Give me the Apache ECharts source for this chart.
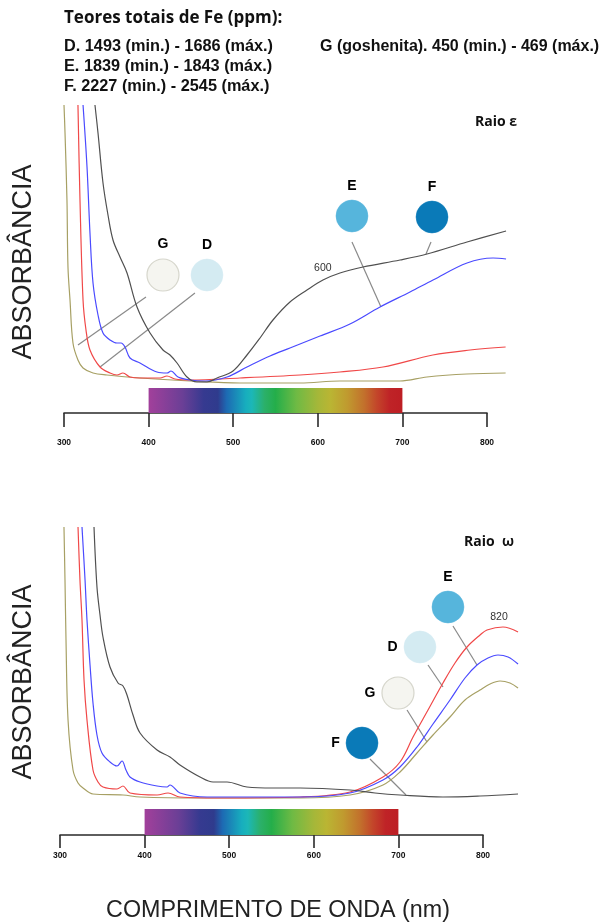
<!DOCTYPE html>
<html><head><meta charset="utf-8">
<script src="https://cdn.jsdelivr.net/npm/echarts@6/dist/echarts.min.js"></script>
<style>html,body{margin:0;padding:0;background:#fff}#c{width:603px;height:922px}</style>
</head><body><div id="c"></div>
<script>
// ---------- DATA ----------
// Raio epsilon (upper panel): wavelength (nm) and absorbance (arbitrary units)
const epsD_nm  = [316.5,318.9,322.5,326,330.7,342.6,354.4,362.6,369.7,378,389.8,413.5,421.7,431.2,448.9,508,579,626,677,736,780,822];
const epsD_abs = [295,200,100,70,50,33,27,25,27,23,22,22,24,21,20,22,25,28,33,45,50,53];
const epsE_nm  = [322.5,327.2,330.7,334.3,340.2,346.1,354.4,362.6,367.4,372.1,378,389.8,409.9,421.7,426.5,434.8,448.9,466.7,492.7,516.3,543.5,567.1,602.6,638,673.5,709,736.2,776.4,807.1,822.5];
const epsE_abs = [295,233,167,117,85,67,60,57,57,53,42,37,28,27,29,23,20,19,23,33,44,52,64,76,93,108,120,137,142,141];
const epsF_nm  = [336.6,340.2,346.1,352,357.9,366.2,374.5,386.3,401.7,417,425.3,433.6,445.4,457.2,469,480.9,499.8,516.3,531.7,547,567.1,587.2,606.1,626.2,653.4,697.2,729.1,776.4,822.5];
const epsF_abs = [295,267,217,185,160,143,127,93,67,50,45,37,23,18,18,22,29,45,62,80,98,110,120,127,133,140,146,158,169];
const epsG_nm  = [300,301.2,303.5,304.7,307.1,310.6,316.5,322.5,334.3,350.8,389.8,448.9,508,579,626,697,729,776,822];
const epsG_abs = [295,267,200,133,100,57,40,32,27,25,22,19,17,17,19,19,23,26,27];

// Raio omega (lower panel)
const omeD_nm  = [321.3,323.6,326,328.4,331.9,339,344.9,350.8,367.4,374.5,382.7,414.7,427.7,441.8,489.1,583.7,642.8,681.8,701.9,717.3,735,752.7,766.9,781.1,796.5,804.7,823.6,841.4];
const omeD_abs = [293,240,200,140,100,50,38,33,31,34,27,25,27,23,22,23,28,43,58,83,110,137,157,173,185,190,193,188];
const omeE_nm  = [326,329.6,331.9,335.5,339,343.7,349.6,359.1,367.4,373.3,378,382.7,394.6,414.7,426.5,430,441.8,473.8,583.7,642.8,681.8,701.9,722,740.9,761,778.7,792.9,805.9,817.7,829.6,841.4];
const omeE_abs = [293,240,200,155,117,85,67,58,54,59,50,43,38,34,33,35,27,23,23,27,40,53,73,96,120,142,155,162,165,163,156];
const omeF_nm  = [340.2,343.7,347.3,350.8,359.1,368.6,374.5,379.2,386.3,394.6,414.7,430,441.8,465.5,480.9,497.4,521,551.8,583.7,642.8,672.3,701.9,752.7,796.5,841.4];
const omeF_abs = [293,233,205,183,153,137,134,125,105,87,70,63,55,43,38,38,33,32,32,30,27,25,23,24,26];
const omeG_nm  = [304.7,305.9,307.1,309.5,315.4,321.3,327.2,339,374.5,394.6,465.5,551.8,583.7,642.8,681.8,701.9,722,740.9,761,778.7,796.5,808.3,820.1,831.9,841.4];
const omeG_abs = [293,240,180,100,50,37,32,26,25,23,22,22,22,25,35,48,67,85,103,120,130,136,139,137,132];

// Axis ticks and visible spectrum
const tickValues = [300,400,500,600,700,800];
const spectrumRange = [400,700];

// Sample swatches (name, colour, position in data space) and leader lines
const epsSwatchNames = ['G','D','E','F'];
const epsSwatchColors = ['#f5f5f0','#d4ebf2','#56b5dc','#0a7ab8'];
const epsSwatchPos = [[417,125],[469,125],[640.4,184],[735,183]];
const epsLeaders = [[[396.9,103],[316.5,55]],[[454.8,107],[342.6,33]],[[640.4,158],[674.7,93]],[[733.8,158],[727.9,146]]];
const omeSwatchNames = ['E','D','G','F'];
const omeSwatchColors = ['#56b5dc','#d4ebf2','#f5f5f0','#0a7ab8'];
const omeSwatchPos = [[758.6,213],[725.5,173],[699.5,127],[657,77]];
const omeLeaders = [[[764.5,194],[792.9,155]],[[735,155],[752.7,133]],[[710.2,110],[733.8,78]],[[666.4,61],[709,25]]];
const epsPeakLabel = [606,132,'600'];
const omePeakLabel = [818.9,203,'820'];

// ---------- CHART ----------
const zip = (a,b) => a.map((v,i)=>[v,b[i]]);
const chart = echarts.init(document.getElementById('c'), null, {renderer:'canvas'});

const colD='#f04848', colE='#4a4aff', colF='#505050', colG='#a7a064';
const curve = (g, nm, ab, color) => ({
  type:'line', xAxisIndex:g, yAxisIndex:g, data:zip(nm,ab), showSymbol:false, symbol:'none',
  smooth:0.35, lineStyle:{color, width:1.2}, z:3, silent:true
});
const leaders = (g, arr) => arr.map(seg => ({
  type:'line', xAxisIndex:g, yAxisIndex:g, data:seg, symbol:'none',
  lineStyle:{color:'#8a8a8a', width:1.2}, z:2, silent:true
}));
const swatches = (g, names, colors, pos, labelPos) => ({
  type:'scatter', xAxisIndex:g, yAxisIndex:g, symbolSize:32, z:5, silent:true,
  data: names.map((n,i)=>({name:n, value:pos[i],
    itemStyle:{opacity:1, color:colors[i], borderColor: n==='G' ? '#d6d6cc' : colors[i], borderWidth: n==='G'?1.2:0.5},
    label:{show:true, formatter:n, position: labelPos[i], distance: labelPos[i]==='top'?7:6,
      fontFamily:'Liberation Sans', fontWeight:'bold', fontSize:14, color:'#000', opacity:1}}))
});
const peakLabel = (g, p) => ({
  type:'scatter', xAxisIndex:g, yAxisIndex:g, symbolSize:0, data:[[p[0],p[1]]], silent:true,
  itemStyle:{opacity:1},
  label:{show:true, position:'inside', formatter:p[2], fontFamily:'Liberation Sans', fontSize:10.5, color:'#333'}
});
const spectrum = (g) => ({
  type:'custom', xAxisIndex:g, yAxisIndex:g, data:[spectrumRange], silent:true,
  renderItem:(params, api) => {
    const a = api.coord([api.value(0), 1]);
    const b = api.coord([api.value(1), 0]);
    return {type:'rect', shape:{x:a[0], y:a[1], width:b[0]-a[0], height:b[1]-a[1]},
      style:{fill:new echarts.graphic.LinearGradient(0,0,1,0,[
        {offset:0,color:'#a2409b'},{offset:0.133,color:'#6b3f96'},{offset:0.217,color:'#363a90'},
        {offset:0.273,color:'#2f3b8d'},{offset:0.307,color:'#1d6ab3'},{offset:0.383,color:'#17aebe'},
        {offset:0.407,color:'#1cb7b7'},{offset:0.457,color:'#2bb069'},{offset:0.5,color:'#24ae4a'},
        {offset:0.583,color:'#6fba44'},{offset:0.667,color:'#a5b739'},{offset:0.717,color:'#bab533'},
        {offset:0.783,color:'#c09a2f'},{offset:0.85,color:'#c2702c'},{offset:0.9,color:'#c3452a'},
        {offset:0.95,color:'#bf2327'},{offset:1,color:'#bd1e24'}])}};
  }
});

const pxPerNm = 0.846;
const grids = [
  {left:64, top:100, width:550*pxPerNm, height:300},   // 0 upper curves
  {left:64, top:388, width:500*pxPerNm, height:25},    // 1 upper axis + spectrum
  {left:60, top:520, width:550*pxPerNm, height:300},   // 2 lower curves
  {left:60, top:809, width:500*pxPerNm, height:26}     // 3 lower axis + spectrum
];
const hiddenX = (g) => ({gridIndex:g, type:'value', min:300, max:850, show:false});
const axisX = (g, margin, tickLen) => ({gridIndex:g, type:'value', min:300, max:800, interval:100,
  axisLine:{show:true, lineStyle:{color:'#2a2a2a', width:1.6}},
  axisTick:{show:true, inside:false, length:tickLen, lineStyle:{color:'#2a2a2a', width:1.6}},
  splitLine:{show:false},
  axisLabel:{margin, fontFamily:'Liberation Sans', fontWeight:'bold', fontSize:8.5, color:'#111',
    customValues: tickValues, showMinLabel:true, showMaxLabel:true}
});
const hiddenY = (g, max) => ({gridIndex:g, type:'value', min:0, max, show:false});

chart.setOption({
  animation:false,
  grid:grids,
  xAxis:[hiddenX(0), axisX(1,25,14), hiddenX(2), axisX(3,16,13)],
  yAxis:[hiddenY(0,300), hiddenY(1,1), hiddenY(2,300), hiddenY(3,1)],
  series:[
    ...leaders(0, epsLeaders),
    curve(0, epsG_nm, epsG_abs, colG),
    curve(0, epsD_nm, epsD_abs, colD),
    curve(0, epsE_nm, epsE_abs, colE),
    curve(0, epsF_nm, epsF_abs, colF),
    swatches(0, epsSwatchNames, epsSwatchColors, epsSwatchPos, ['top','top','top','top']),
    peakLabel(0, epsPeakLabel),
    spectrum(1),
    ...leaders(2, omeLeaders),
    curve(2, omeG_nm, omeG_abs, colG),
    curve(2, omeD_nm, omeD_abs, colD),
    curve(2, omeE_nm, omeE_abs, colE),
    curve(2, omeF_nm, omeF_abs, colF),
    swatches(2, omeSwatchNames, omeSwatchColors, omeSwatchPos, ['top','left','left','left']),
    peakLabel(2, omePeakLabel),
    spectrum(3)
  ],
  graphic:[
    {type:'text', left:64, top:10, style:{text:'Teores totais de Fe (ppm):', font:'bold 17px "Open Sans"', fill:'#111'}},
    {type:'text', left:64, top:39, style:{text:'D. 1493 (min.) - 1686 (máx.)', font:'bold 16.3px "Liberation Sans"', fill:'#111'}},
    {type:'text', left:64, top:59, style:{text:'E. 1839 (min.) - 1843 (máx.)', font:'bold 16.3px "Liberation Sans"', fill:'#111'}},
    {type:'text', left:64, top:79, style:{text:'F. 2227 (min.) - 2545 (máx.)', font:'bold 16.3px "Liberation Sans"', fill:'#111'}},
    {type:'text', left:320, top:39, style:{text:'G (goshenita). 450 (min.) - 469 (máx.)', font:'bold 16px "Liberation Sans"', fill:'#111'}},
    {type:'text', x:517, y:122, style:{text:'Raio ε', font:'bold 14px "Open Sans"', fill:'#111', textAlign:'right', textVerticalAlign:'middle'}},
    {type:'text', x:514, y:542, style:{text:'Raio  ω', font:'bold 14px "Open Sans"', fill:'#111', textAlign:'right', textVerticalAlign:'middle'}},
    {type:'text', x:24, y:262, rotation:Math.PI/2, style:{text:'ABSORBÂNCIA', font:'27px "Liberation Sans"', fill:'#222', textAlign:'center', textVerticalAlign:'middle'}},
    {type:'text', x:24, y:682, rotation:Math.PI/2, style:{text:'ABSORBÂNCIA', font:'27px "Liberation Sans"', fill:'#222', textAlign:'center', textVerticalAlign:'middle'}},
    {type:'text', x:278, y:911, style:{text:'COMPRIMENTO DE ONDA (nm)', font:'23.3px "Liberation Sans"', fill:'#222', textAlign:'center', textVerticalAlign:'middle'}}
  ]
});
</script></body></html>
